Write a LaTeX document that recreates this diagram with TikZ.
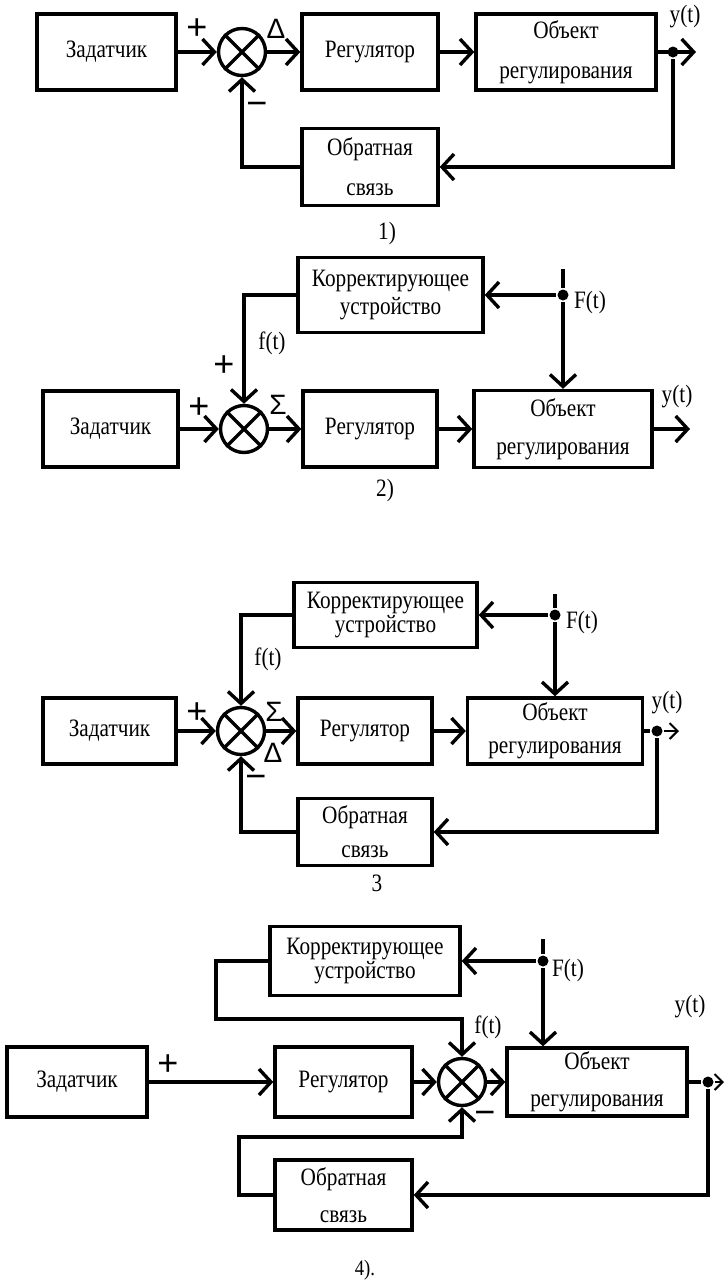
\documentclass[tikz,border=0pt]{standalone}
\usepackage{fontspec}
\setmainfont[FakeStretch=0.85]{Liberation Serif}
\newfontfamily\signfont{Liberation Sans}
\usetikzlibrary{arrows.meta}
\newcommand{\lw}{3.4pt}
\newcommand{\sumcross}[1]{\draw (#1.north west) -- (#1.south east) (#1.north east) -- (#1.south west);}

\begin{document}
\begin{tikzpicture}[x=1pt, y=-1pt, line width=\lw,
    block/.style={draw, rectangle, line width=\lw, inner sep=0pt, align=center, font=\fontsize{25}{26}\selectfont},
    summer/.style={draw, circle, minimum size=47pt, inner sep=0pt, line width=\lw},
    sign/.style={font=\signfont\fontsize{36}{36}\selectfont, inner sep=0pt},
    greek/.style={font=\signfont\fontsize{28}{28}\selectfont, inner sep=0pt},
    lbl/.style={font=\fontsize{25}{26}\selectfont, inner sep=0pt},
    dot/.style={circle, fill, minimum size=11pt, inner sep=0pt},
    >={Straight Barb[length=12pt,width=26pt]},
    thinout/.style={line width=2pt, -{Straight Barb[length=8pt,width=16pt]}}]
    \useasboundingbox (0,0) rectangle (725,1283);

    % First diagram
    \node[block, minimum width=139pt, minimum height=76pt] (zad1) at (106.5,52) {Задатчик};
    \node[summer] (sum1) at (242,52) {};
    \node[block, minimum width=136pt, minimum height=76pt] (reg1) at (370,52) {Регулятор};
    \node[block, minimum width=180pt, minimum height=76pt] (obj1) at (566,52) {Объект\\[14pt]регулирования};
    \node[block, minimum width=136pt, minimum height=77pt] (obr1) at (370,167) {Обратная\\[14pt]связь};
    \node[dot] (dot1) at (673,52) {};
    \coordinate (out1) at (696,52);
    \sumcross{sum1}
    \draw[->] (zad1) -- (sum1);
    \draw[->] (sum1) -- (reg1);
    \draw[->] (reg1) -- (obj1);
    \draw[->] (obj1) -- (out1);
    \draw[->] (dot1) |- (obr1);
    \draw[->] (obr1) -| (sum1);
    \node[sign] (plus1) at (197,29) {+};
    \node[greek] (delta1) at (276,29) {Δ};
    \node[sign] (minus1) at (257,109) {−};
    \node[lbl] (y1) at (685,17) {y(t)};
    \node[lbl] (cap1) at (387,233) {1)};

    % Second diagram
    \node[block, minimum width=185pt, minimum height=75pt] (kor2) at (390.5,295) {Корректирующее\\[2pt]устройство};
    \node[block, minimum width=135pt, minimum height=76pt] (zad2) at (110.5,429) {Задатчик};
    \node[summer] (sum2) at (244,429) {};
    \node[block, minimum width=134pt, minimum height=76pt] (reg2) at (370,429) {Регулятор};
    \node[block, minimum width=178pt, minimum height=77pt] (obj2) at (563,429) {Объект\\[12pt]регулирования};
    \coordinate (Ftop2) at (563,269);
    \node[dot] (Fdot2) at (563,295) {};
    \coordinate (out2) at (690,429);
    \sumcross{sum2}
    \draw (Ftop2) -- (Fdot2);
    \draw[->] (Fdot2) -- (kor2);
    \draw[->] (Fdot2) -- (obj2);
    \draw[->] (kor2) -| (sum2);
    \draw[->] (zad2) -- (sum2);
    \draw[->] (sum2) -- (reg2);
    \draw[->] (reg2) -- (obj2);
    \draw[->] (obj2) -- (out2);
    \node[sign] (plus2a) at (199,408) {+};
    \node[sign] (plus2b) at (224,366) {+};
    \node[lbl] (f2) at (272,343) {f(t)};
    \node[greek] (sigma2) at (278,405) {Σ};
    \node[lbl] (F2) at (590,302) {F(t)};
    \node[lbl] (y2) at (677,397) {y(t)};
    \node[lbl] (cap2) at (385,490) {2)};

    % Third diagram
    \node[block, minimum width=183pt, minimum height=65pt] (kor3) at (385.5,615) {Корректирующее\\[-2pt]устройство};
    \node[block, minimum width=133pt, minimum height=66pt] (zad3) at (109.5,731) {Задатчик};
    \node[summer] (sum3) at (241,731) {};
    \node[block, minimum width=134pt, minimum height=66pt] (reg3) at (365,731) {Регулятор};
    \node[block, minimum width=175pt, minimum height=66pt] (obj3) at (555,731) {Объект\\[7pt]регулирования};
    \node[block, minimum width=134pt, minimum height=67pt] (obr3) at (365,832) {Обратная\\[8pt]связь};
    \coordinate (Ftop3) at (555,594);
    \node[dot] (Fdot3) at (555,615) {};
    \node[dot] (dot3) at (657,731) {};
    \coordinate (out3) at (679,731);
    \sumcross{sum3}
    \draw (Ftop3) -- (Fdot3);
    \draw[->] (Fdot3) -- (kor3);
    \draw[->] (Fdot3) -- (obj3);
    \draw[->] (kor3) -| (sum3);
    \draw[->] (zad3) -- (sum3);
    \draw[->] (sum3) -- (reg3);
    \draw[->] (reg3) -- (obj3);
    \draw (obj3) -- (dot3);
    \draw[thinout] (dot3) -- (out3);
    \draw[->] (dot3) |- (obr3);
    \draw[->] (obr3) -| (sum3);
    \node[sign] (plus3) at (197,713) {+};
    \node[greek] (sigma3) at (274,712) {Σ};
    \node[greek] (delta3) at (273,753) {Δ};
    \node[sign] (minus3) at (256,782) {−};
    \node[lbl] (f3) at (268,659) {f(t)};
    \node[lbl] (F3) at (582,622) {F(t)};
    \node[lbl] (y3) at (667,703) {y(t)};
    \node[lbl] (cap3) at (377,883) {3};

    % Fourth diagram
    \node[block, minimum width=190pt, minimum height=69pt] (kor4) at (365,961) {Корректирующее\\[-2pt]устройство};
    \node[block, minimum width=140pt, minimum height=70pt] (zad4) at (77,1082) {Задатчик};
    \node[block, minimum width=137pt, minimum height=70pt] (reg4) at (343.5,1082) {Регулятор};
    \node[summer] (sum4) at (462,1082) {};
    \node[block, minimum width=180pt, minimum height=68pt] (obj4) at (597,1082) {Объект\\[11pt]регулирования};
    \node[block, minimum width=137pt, minimum height=70pt] (obr4) at (343.5,1195) {Обратная\\[11pt]связь};
    \coordinate (Ftop4) at (543,939);
    \node[dot] (Fdot4) at (543,961) {};
    \node[dot] (dot4) at (708,1082) {};
    \coordinate (out4) at (724,1082);
    \coordinate (kl4) at (216,1019);
    \coordinate (kb4) at (239,1137);
    \sumcross{sum4}
    \draw[->] (zad4) -- (reg4);
    \draw[->] (reg4) -- (sum4);
    \draw[->] (sum4) -- (obj4);
    \draw (obj4) -- (dot4);
    \draw[thinout] (dot4) -- (out4);
    \draw (Ftop4) -- (Fdot4);
    \draw[->] (Fdot4) -- (kor4);
    \draw[->] (Fdot4) -- (Fdot4 |- obj4.north);
    \draw[->] (kor4) -| (kl4) -| (sum4);
    \draw[->] (dot4) |- (obr4);
    \draw[->] (obr4) -| (kb4) -| (sum4);
    \node[sign] (plus4) at (168,1065) {+};
    \node[lbl] (f4) at (488,1027) {f(t)};
    \node[sign] (minus4) at (485,1118) {−};
    \node[lbl] (F4) at (568,970) {F(t)};
    \node[lbl] (y4) at (690,1007) {y(t)};
    \node[lbl, font=\fontsize{22}{24}\selectfont] (cap4) at (365,1270) {4).};
\end{tikzpicture}
\end{document}
